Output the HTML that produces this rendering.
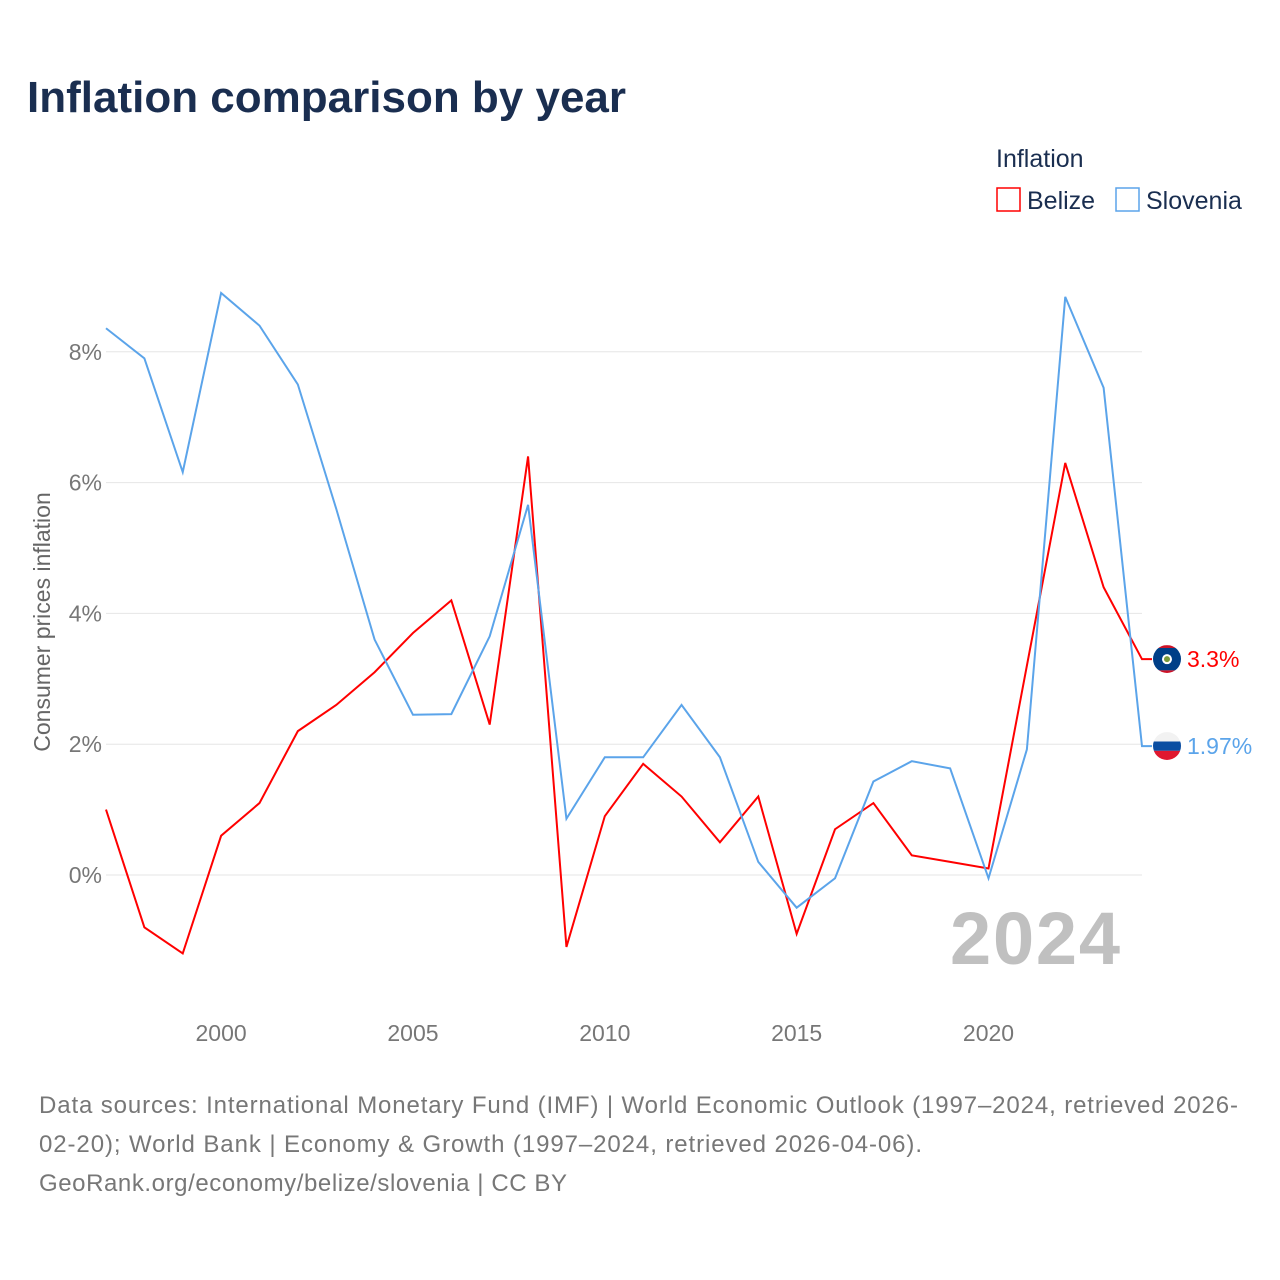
<!DOCTYPE html>
<html><head><meta charset="utf-8"><style>
body{margin:0;background:#fff;font-family:"Liberation Sans",sans-serif}
</style></head><body>
<svg width="1280" height="1280" viewBox="0 0 1280 1280" style="display:block">
<defs>
<clipPath id="cb"><circle cx="1167" cy="659" r="14"/></clipPath>
<clipPath id="cs"><circle cx="1167" cy="746" r="14"/></clipPath>
</defs>
<text x="27" y="112" font-size="44" font-weight="bold" fill="#1a2e50">Inflation comparison by year</text>
<text x="996" y="167" font-size="25" fill="#1a2e50">Inflation</text>
<g><rect x="997" y="188" width="23" height="23" fill="none" stroke="#f00" stroke-width="1.5"/><text x="1027" y="209" font-size="25" fill="#1a2e50">Belize</text></g>
<g><rect x="1116" y="188" width="23" height="23" fill="none" stroke="#5ba4ea" stroke-width="1.5"/><text x="1146" y="209" font-size="25" fill="#1a2e50">Slovenia</text></g>
<g id="grid"></g><g id="xt"></g><g id="lines"></g>
<text x="1120" y="964" text-anchor="end" font-size="74" font-weight="bold" fill="#c0c0c0" textLength="170">2024</text>
<text transform="translate(50,622) rotate(-90)" text-anchor="middle" font-size="23" fill="#666">Consumer prices inflation</text>
<g font-size="24" fill="#777">
<text x="39" y="1113" textLength="1199">Data sources: International Monetary Fund (IMF) | World Economic Outlook (1997–2024, retrieved 2026-</text>
<text x="39" y="1152" textLength="883">02-20); World Bank | Economy &amp; Growth (1997–2024, retrieved 2026-04-06).</text>
<text x="39" y="1191" textLength="528">GeoRank.org/economy/belize/slovenia | CC BY</text>
</g>
</svg>
<script>
const years=[1997,1998,1999,2000,2001,2002,2003,2004,2005,2006,2007,2008,2009,2010,2011,2012,2013,2014,2015,2016,2017,2018,2019,2020,2021,2022,2023,2024];
const belize=[1.0,-0.8,-1.2,0.6,1.1,2.2,2.6,3.1,3.7,4.2,2.3,6.4,-1.1,0.9,1.7,1.2,0.5,1.2,-0.9,0.7,1.1,0.3,0.2,0.1,3.2,6.3,4.4,3.3];
const slovenia=[8.36,7.9,6.16,8.9,8.4,7.5,5.6,3.6,2.45,2.46,3.65,5.66,0.86,1.8,1.8,2.6,1.8,0.2,-0.5,-0.05,1.43,1.74,1.63,-0.05,1.92,8.84,7.45,1.97];
const yTicks=[0,2,4,6,8];
const xTicks=[2000,2005,2010,2015,2020];
const NS="http://www.w3.org/2000/svg";
const X=y=>106+(y-1997)*38.37, Y=v=>875-v*65.4;
function mk(t,a,p){const e=document.createElementNS(NS,t);for(const k in a)e.setAttribute(k,a[k]);p.appendChild(e);return e;}
const g=document.getElementById('grid');
yTicks.forEach(t=>{
const l=mk('line',{x1:106,x2:1142,y1:Y(t),y2:Y(t),stroke:'#e6e6e6'},g);


const tx=mk('text',{x:102,y:Y(t)+8,'text-anchor':'end','font-size':23,fill:'#777'},g);tx.textContent=t+'%';


});
const xt=document.getElementById('xt');
xTicks.forEach(t=>{const tx=mk('text',{x:X(t),y:1041,'text-anchor':'middle','font-size':23,fill:'#777'},xt);tx.textContent=t;

});
const L=document.getElementById('lines');
function series(vals,col,name,lab,bands,clip){
const pts=vals.map((v,i)=>X(years[i])+','+Y(v));
const last=vals[vals.length-1];
pts.push((X(2024)+10)+','+Y(last));
const p=mk('polyline',{points:pts.join(' '),fill:'none',stroke:col,'stroke-width':2},L);


const cy=Y(last);
const f=mk('g',{'clip-path':'url(#'+clip+')'},L);


let y0=cy-14;
bands.forEach(b=>{mk('rect',{x:1153,y:y0,width:28,height:b[1]*28,fill:b[0]},f);y0+=b[1]*28;});
if(name==='belize'){mk('circle',{cx:1167,cy:cy,r:5,fill:'#fff'},f);mk('circle',{cx:1167,cy:cy,r:3,fill:'#7a9a3a'},f);}
const t=mk('text',{x:1187,y:cy+8,'font-size':23,fill:col},L);t.textContent=lab;


}
series(belize,'#f00','belize','3.3%',[['#ce1126',0.1],['#003f87',0.8],['#ce1126',0.1]],'cb');
series(slovenia,'#5ba4ea','slovenia','1.97%',[['#f2f2f2',1/3],['#0b4ea2',1/3],['#e0182f',1/3]],'cs');
</script>
</body></html>
